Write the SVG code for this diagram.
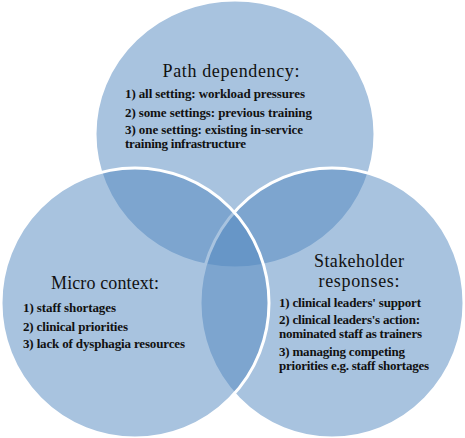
<svg xmlns="http://www.w3.org/2000/svg" width="465" height="438" viewBox="0 0 465 438">
<style>
.c{fill:#5187c0;fill-opacity:0.5;stroke:#ffffff;stroke-width:3}
.t{font-family:"Liberation Serif","Times New Roman",serif;font-size:18px;fill:#111111;text-anchor:middle}
.i{font-family:"Liberation Serif","Times New Roman",serif;font-size:13px;font-weight:bold;fill:#111111}
</style>
<rect width="465" height="438" fill="#ffffff"/>
<g id="path-dependency">
<ellipse class="c" cx="235" cy="134" rx="140" ry="134"/>
<text class="t" x="231" y="77" textLength="137">Path dependency:</text>
<text class="i" x="125" y="98" textLength="180">1) all setting: workload pressures</text>
<text class="i" x="125" y="117" textLength="187">2) some settings: previous training</text>
<text class="i" x="125" y="134" textLength="178">3) one setting: existing in-service</text>
<text class="i" x="125" y="148" textLength="121">training infrastructure</text>
</g>
<g id="stakeholder-responses">
<ellipse class="c" cx="332" cy="303" rx="132" ry="135"/>
<text class="t" x="359" y="267" textLength="90">Stakeholder</text>
<text class="t" x="359" y="287" textLength="81">responses:</text>
<text class="i" x="279" y="307" textLength="142">1) clinical leaders' support</text>
<text class="i" x="279" y="324" textLength="141">2) clinical leaders's action:</text>
<text class="i" x="279" y="338" textLength="143">nominated staff as trainers</text>
<text class="i" x="279" y="356" textLength="126">3) managing competing</text>
<text class="i" x="279" y="370" textLength="150">priorities e.g. staff shortages</text>
</g>
<g id="micro-context">
<ellipse class="c" cx="135" cy="303" rx="134" ry="135"/>
<text class="t" x="105" y="289" textLength="108">Micro context:</text>
<text class="i" x="23" y="312" textLength="93">1) staff shortages</text>
<text class="i" x="23" y="331" textLength="105">2) clinical priorities</text>
<text class="i" x="23" y="348" textLength="162">3) lack of dysphagia resources</text>
</g>
<g id="connectors"/>
</svg>
